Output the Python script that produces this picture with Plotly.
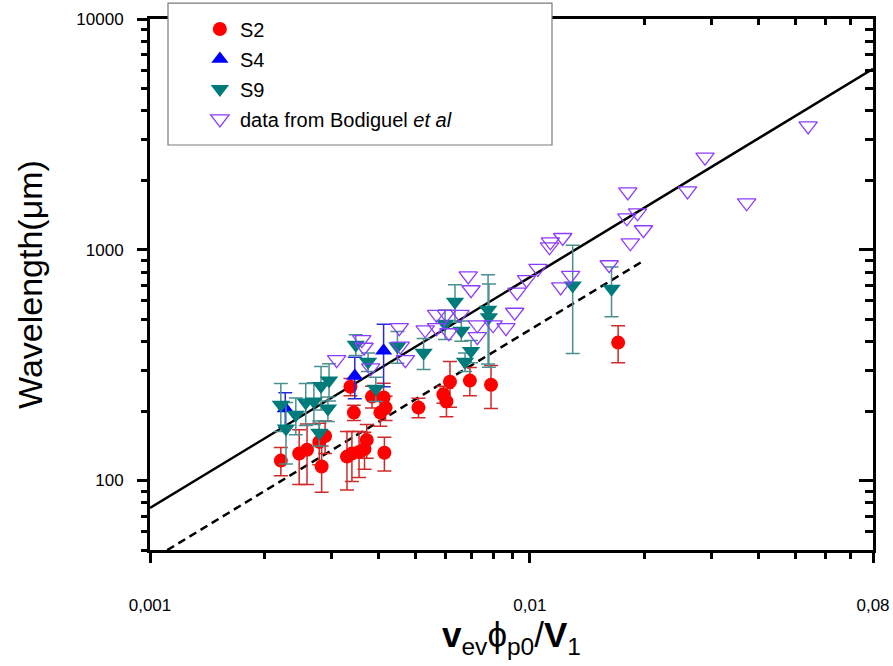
import numpy as np
import plotly.graph_objects as go

# ---------------- data ----------------
s2_x = [0.00221, 0.00247, 0.00259, 0.00279, 0.00289, 0.00283, 0.00337, 0.00344,
        0.00330, 0.00340, 0.00355, 0.00367, 0.00372, 0.00384, 0.00404, 0.00412,
        0.00417, 0.00414, 0.00509, 0.00592, 0.00603, 0.00616, 0.00695, 0.00790,
        0.01707]
s2_y = [122, 131, 136, 147, 156, 115, 255, 197,
        127, 131, 133, 137, 150, 231, 197, 229,
        207, 132, 207, 236, 220, 268, 271, 260,
        396]
s2_err = [17, 35, 40, 30, 25, 26, 22, 15,
          36, 32, 30, 25, 25, 25, 25, 35,
          25, 22, 20, 20, 31, 60, 38, 55,
          72]

s4_x = [0.00227, 0.00346, 0.00412]
s4_y = [205, 284, 365]
s4_err = [35, 58, 110]

s9_x = [0.00221, 0.00228, 0.00242, 0.00257, 0.00270, 0.00282, 0.00296, 0.00294,
        0.00279, 0.00348, 0.00375, 0.00393, 0.00448, 0.00525, 0.00635, 0.00598,
        0.00660, 0.00700, 0.00675, 0.00776, 0.00780, 0.01296, 0.01640]
s9_y = [213, 168, 193, 218, 220, 257, 271, 205,
        161, 388, 327, 250, 382, 358, 595, 478,
        446, 364, 327, 550, 510, 700, 678]
s9_err = [50, 50, 35, 45, 45, 55, 50, 25,
          20, 40, 30, 30, 60, 55, 110, 70,
          45, 40, 30, 230, 200, 345, 165]

bod_x = [0.00310, 0.00361, 0.00366, 0.00381, 0.00453, 0.00456, 0.00470, 0.00530,
         0.00568, 0.00603, 0.00655, 0.00568, 0.00612, 0.00688, 0.00700, 0.00727,
         0.00727, 0.00800, 0.00865, 0.00912, 0.00925, 0.00980, 0.01050, 0.01132,
         0.01126, 0.01220, 0.01205, 0.01280, 0.01617, 0.01800, 0.01810, 0.01920,
         0.01838, 0.01990, 0.02600, 0.02890, 0.03720, 0.05400]
bod_y = [334, 408, 378, 308, 460, 382, 334, 450,
         525, 525, 525, 460, 437, 770, 671, 473,
         420, 473, 460, 536, 655, 742, 830, 1083,
         1030, 1130, 690, 775, 861, 1376, 1782, 1446,
         1072, 1221, 1800, 2520, 1598, 3441]

# power-law guide lines  (lambda = A * x)
solid_A = 76000.0
solid_xrange = [0.001, 0.08]
dash_A = 45000.0
dash_xrange = [0.00111, 0.0198]

x_tickvals = [0.001, 0.01, 0.08]
x_ticktext = ["0,001", "0,01", "0,08"]
x_minor = [0.002, 0.003, 0.004, 0.005, 0.006, 0.007, 0.008, 0.009,
           0.02, 0.03, 0.04, 0.05, 0.06, 0.07]
y_tickvals = [100, 1000, 10000]
y_ticktext = ["100", "1000", "10000"]
y_minor = [50, 60, 70, 80, 90, 200, 300, 400, 500, 600, 700, 800, 900,
           2000, 3000, 4000, 5000, 6000, 7000, 8000, 9000]

# ---------------- figure ----------------
FONT = "Liberation Sans, Arial, sans-serif"
fig = go.Figure()

sx = np.logspace(np.log10(solid_xrange[0]), np.log10(solid_xrange[1]), 50)
fig.add_trace(go.Scatter(x=sx, y=solid_A * sx, mode="lines",
                         line=dict(color="black", width=2.5),
                         showlegend=False, hoverinfo="skip"))
dx = np.logspace(np.log10(dash_xrange[0]), np.log10(dash_xrange[1]), 50)
fig.add_trace(go.Scatter(x=dx, y=dash_A * dx, mode="lines",
                         line=dict(color="black", width=2.5, dash="8px,5px"),
                         showlegend=False, hoverinfo="skip"))

fig.add_trace(go.Scatter(
    x=s2_x, y=s2_y, mode="markers", name="S2", legendgroup="a",
    marker=dict(symbol="circle", size=14, color="#ff0000"),
    error_y=dict(type="data", array=s2_err, color="#d02a2a", thickness=1.5, width=7)))
fig.add_trace(go.Scatter(
    x=s4_x, y=s4_y, mode="markers", name="S4", legendgroup="b",
    marker=dict(symbol="triangle-up", size=15, color="#0000ff"),
    error_y=dict(type="data", array=s4_err, color="#2a2ad8", thickness=1.5, width=7)))
fig.add_trace(go.Scatter(
    x=s9_x, y=s9_y, mode="markers", name="S9", legendgroup="c",
    marker=dict(symbol="triangle-down", size=16, color="#007b7b"),
    error_y=dict(type="data", array=s9_err, color="#4a8f8f", thickness=1.5, width=7)))
fig.add_trace(go.Scatter(
    x=bod_x, y=bod_y, mode="markers", name="data from Bodiguel <i>et al</i>",
    legendgroup="d",
    marker=dict(symbol="triangle-down-open", size=16, color="#8b3dff",
                line=dict(width=1.3, color="#8b3dff"))))

# empty trace for the mirrored (top/right) axes with inward ticks
fig.add_trace(go.Scatter(x=[], y=[], xaxis="x2", yaxis="y2",
                         showlegend=False, hoverinfo="skip"))

xr = [np.log10(0.001), np.log10(0.08)]
yr = [np.log10(50), np.log10(10000)]

common = dict(type="log", showgrid=False, zeroline=False,
              tickfont=dict(family=FONT, size=17, color="black"))

fig.update_layout(
    width=893, height=666,
    margin=dict(l=150, r=20, t=19, b=116, autoexpand=False),
    paper_bgcolor="white", plot_bgcolor="white",
    font=dict(family=FONT, color="black"),
    xaxis=dict(**common, range=xr, tickmode="array", tickvals=x_tickvals,
               ticktext=x_ticktext, ticks="outside", ticklen=10, tickwidth=3,
               tickcolor="black", showline=True, linewidth=3, linecolor="black",
               mirror=True, ticklabelstandoff=28,
               minor=dict(tickmode="array", tickvals=x_minor, ticks="outside",
                          ticklen=6, tickwidth=3, tickcolor="black"),
               title=dict(text="<b>v</b><sub>ev</sub>ϕ<sub>p0</sub>/<b>V</b><sub>1</sub>",
                          font=dict(family=FONT, size=35, color="black"),
                          standoff=2)),
    yaxis=dict(**common, range=yr, tickmode="array", tickvals=y_tickvals,
               ticktext=y_ticktext, ticks="outside", ticklen=10, tickwidth=3,
               tickcolor="black", showline=True, linewidth=3, linecolor="black",
               mirror=True, ticklabelstandoff=10,
               minor=dict(tickmode="array", tickvals=y_minor, ticks="outside",
                          ticklen=6, tickwidth=3, tickcolor="black"),
               title=dict(text="Wavelength(μm)",
                          font=dict(family=FONT, size=34, color="black"),
                          standoff=24)),
    xaxis2=dict(**common, range=xr, overlaying="x", side="top", anchor="y2",
                tickmode="array", tickvals=x_tickvals, ticks="inside",
                ticklen=10, tickwidth=3, tickcolor="black", showticklabels=False,
                showline=False,
                minor=dict(tickmode="array", tickvals=x_minor, ticks="inside",
                           ticklen=6, tickwidth=3, tickcolor="black")),
    yaxis2=dict(**common, range=yr, overlaying="y", side="right", anchor="x2",
                tickmode="array", tickvals=y_tickvals, ticks="inside",
                ticklen=14, tickwidth=3, tickcolor="black", showticklabels=False,
                showline=False,
                minor=dict(tickmode="array", tickvals=y_minor, ticks="inside",
                           ticklen=8, tickwidth=3, tickcolor="black")),
    legend=dict(x=0.069, y=1.018, xanchor="left", yanchor="top",
                bgcolor="rgba(0,0,0,0)", borderwidth=0, tracegroupgap=1,
                font=dict(family=FONT, size=20, color="black")),
    shapes=[dict(type="rect", xref="paper", yref="paper",
                 x0=0.0249, x1=0.556, y0=0.7627, y1=1.030,
                 fillcolor="white", line=dict(color="#7a7a7a", width=1.2),
                 layer="above")],
    showlegend=True,
)

fig.write_html("out.html",
               config={"displayModeBar": False},
               post_script="document.body.style.margin='0';"
                           "document.body.style.overflow='hidden';")
